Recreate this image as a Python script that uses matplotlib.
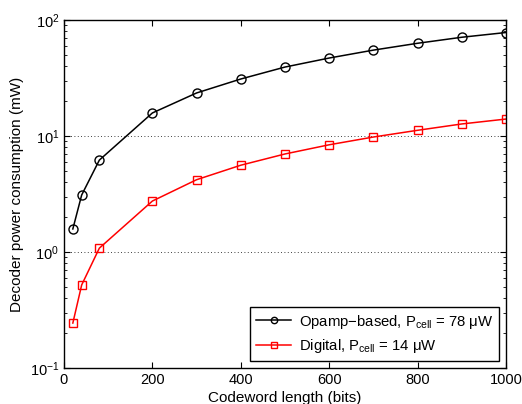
import matplotlib
matplotlib.use("Agg")
import matplotlib.pyplot as plt
from matplotlib.ticker import LogLocator, NullFormatter

plt.rcParams['font.family'] = ['Liberation Sans', 'DejaVu Sans']
plt.rcParams['mathtext.fontset'] = 'custom'
plt.rcParams['mathtext.rm'] = 'Liberation Sans'
plt.rcParams['mathtext.it'] = 'Liberation Sans:italic'

codeword = [20, 40, 80, 200, 300, 400, 500, 600, 700, 800, 900, 1000]
opamp = [1.58, 3.1, 6.2, 15.8, 23.5, 31, 39.3, 47, 55, 63, 71, 78]
digital = [0.244, 0.52, 1.08, 2.75, 4.2, 5.6, 7.0, 8.4, 9.8, 11.2, 12.7, 14]
xticks = [0, 200, 400, 600, 800, 1000]

fig = plt.figure(figsize=(5.22, 4.04), dpi=100)
ax = fig.add_axes([0.1226, 0.0891, 0.8467, 0.8614])

ax.plot(codeword, opamp, '-o', color='black', mfc='none', ms=6.5, lw=1.1,
        label=r'Opamp$-$based, P$_\mathregular{cell}$ = 78 $\mathregular{\mu}$W')
ax.plot(codeword, digital, '-s', color='red', mfc='none', ms=5.5, lw=1.1,
        label=r'Digital, P$_\mathregular{cell}$ = 14 $\mathregular{\mu}$W')

ax.set_yscale('log')
ax.set_xlim(0, 1000)
ax.set_ylim(0.1, 100)
ax.set_xticks(xticks)
ax.yaxis.set_minor_locator(LogLocator(base=10, subs=range(2, 10)))
ax.yaxis.set_minor_formatter(NullFormatter())
ax.tick_params(which='both', direction='in', top=True, right=True, labelsize=10.5)
ax.tick_params(which='major', length=4)
ax.tick_params(which='minor', length=2)
ax.yaxis.grid(True, which='major', linestyle=(0, (1, 3)), color='black', lw=0.6)
for s in ax.spines.values():
    s.set_linewidth(1.0)

ax.set_xlabel('Codeword length (bits)', fontsize=11, labelpad=3)
ax.set_ylabel('Decoder power consumption (mW)', fontsize=11, labelpad=4)

leg = ax.legend(loc='lower right', fontsize=10.7, fancybox=False, framealpha=1,
                edgecolor='black', borderaxespad=0.45, handlelength=2.4,
                handletextpad=0.5, labelspacing=0.45, markerscale=0.7)
leg.get_frame().set_linewidth(1.0)

fig.savefig('out.png', dpi=100)
